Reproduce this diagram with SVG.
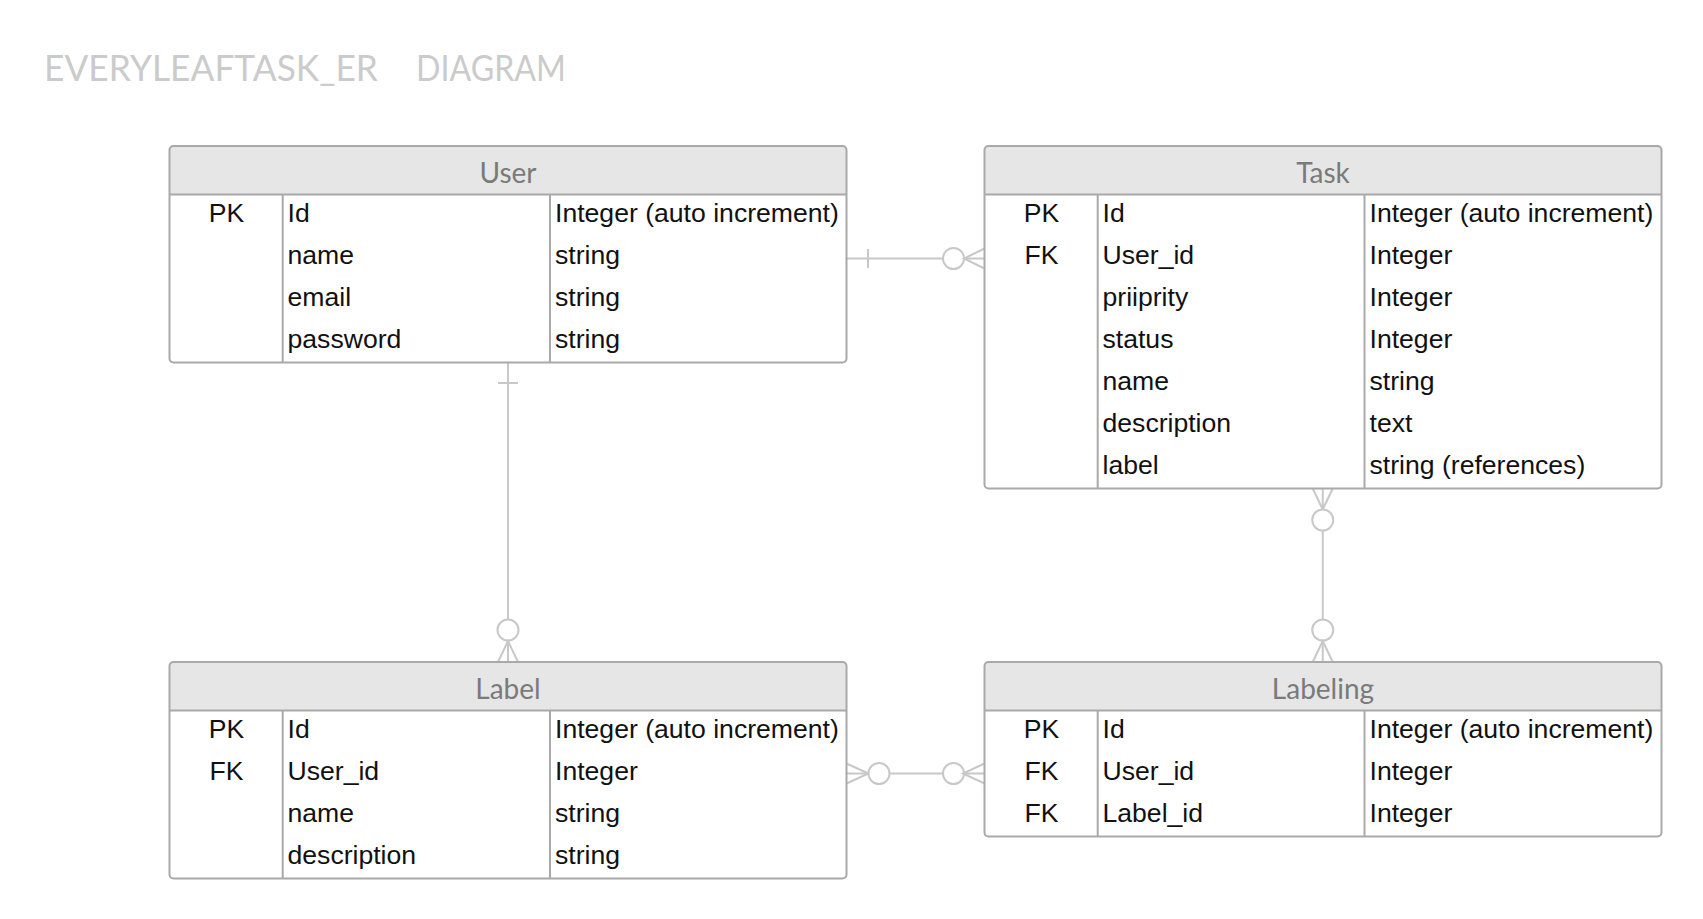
<svg xmlns="http://www.w3.org/2000/svg" width="1703" height="919" viewBox="0 0 1703 919">
<style>
.bg{fill:#ffffff}
.box{fill:#ffffff;stroke:none}
.hdr{fill:#e6e6e6;stroke:none}
.frame{fill:none;stroke:#a9a9a9;stroke-width:2}
.ln{stroke:#a9a9a9;stroke-width:2}
.title{font-family:Lato,"Open Sans",sans-serif;font-size:36px;fill:#cbcbcb}
.h{font-family:Lato,"Open Sans",sans-serif;font-size:28px;fill:#7a7a7a;text-anchor:middle}
.t{font-family:"Liberation Sans",Arial,sans-serif;font-size:26.6px;fill:#111111}
.k{text-anchor:middle}
.c{stroke:#c8c8c8;stroke-width:2;fill:none}
.o{stroke:#c8c8c8;stroke-width:2;fill:#ffffff}
</style>
<defs>
<path id="hdr677" d="M0,48.5 V4 Q0,0 4,0 H673 Q677,0 677,4 V48.5 Z"/>
</defs>
<rect class="bg" x="0" y="0" width="1703" height="919"/>
<g id="title">
<text class="title" x="44" y="81" textLength="334" lengthAdjust="spacingAndGlyphs">EVERYLEAFTASK_ER</text>
<text class="title" x="416" y="81" textLength="150" lengthAdjust="spacingAndGlyphs">DIAGRAM</text>
</g>
<g id="connectors">
<line class="c" x1="846.5" y1="258.5" x2="984.5" y2="258.5"/>
<line class="c" x1="868" y1="249" x2="868" y2="268"/>
<circle class="o" cx="953.5" cy="258.5" r="10.5"/>
<path class="c" d="M984.5,248.5 L964,258.5 L984.5,268.5"/>
<line class="c" x1="508" y1="362.5" x2="508" y2="662"/>
<line class="c" x1="498" y1="383" x2="518" y2="383"/>
<circle class="o" cx="508" cy="630" r="10.5"/>
<path class="c" d="M498,662 L508,641 L518,662"/>
<line class="c" x1="1322.75" y1="488.5" x2="1322.75" y2="662"/>
<path class="c" d="M1312.75,488.5 L1322.75,509.5 L1332.75,488.5"/>
<circle class="o" cx="1322.75" cy="520" r="10.5"/>
<circle class="o" cx="1322.75" cy="630" r="10.5"/>
<path class="c" d="M1312.75,662 L1322.75,641 L1332.75,662"/>
<line class="c" x1="846.5" y1="773.5" x2="984.5" y2="773.5"/>
<path class="c" d="M846.5,763.5 L868.5,773.5 L846.5,783.5"/>
<circle class="o" cx="879" cy="773.5" r="10.5"/>
<circle class="o" cx="953.5" cy="773.5" r="10.5"/>
<path class="c" d="M984.5,763.5 L963,773.5 L984.5,783.5"/>
</g>
<g id="user" transform="translate(169.5,146)">
<rect class="box" x="0" y="0" width="677" height="216.5" rx="4"/>
<use href="#hdr677" class="hdr"/>
<line class="ln" x1="0" y1="48.5" x2="677" y2="48.5"/>
<line class="ln" x1="113.2" y1="48.5" x2="113.2" y2="216.5"/>
<line class="ln" x1="380.5" y1="48.5" x2="380.5" y2="216.5"/>
<rect class="frame" x="0" y="0" width="677" height="216.5" rx="4"/>
<text class="h" x="338.5" y="36.7">User</text>
<text class="t k" x="57" y="75.5">PK</text>
<text class="t" x="118" y="75.5">Id</text>
<text class="t" x="385.5" y="75.5">Integer (auto increment)</text>
<text class="t" x="118" y="117.5">name</text>
<text class="t" x="385.5" y="117.5">string</text>
<text class="t" x="118" y="159.5">email</text>
<text class="t" x="385.5" y="159.5">string</text>
<text class="t" x="118" y="201.5">password</text>
<text class="t" x="385.5" y="201.5">string</text>
</g>
<g id="task" transform="translate(984.5,146)">
<rect class="box" x="0" y="0" width="677" height="342.5" rx="4"/>
<use href="#hdr677" class="hdr"/>
<line class="ln" x1="0" y1="48.5" x2="677" y2="48.5"/>
<line class="ln" x1="113.2" y1="48.5" x2="113.2" y2="342.5"/>
<line class="ln" x1="380" y1="48.5" x2="380" y2="342.5"/>
<rect class="frame" x="0" y="0" width="677" height="342.5" rx="4"/>
<text class="h" x="338.5" y="36.7">Task</text>
<text class="t k" x="57" y="75.5">PK</text>
<text class="t" x="118" y="75.5">Id</text>
<text class="t" x="385" y="75.5">Integer (auto increment)</text>
<text class="t k" x="57" y="117.5">FK</text>
<text class="t" x="118" y="117.5">User_id</text>
<text class="t" x="385" y="117.5">Integer</text>
<text class="t" x="118" y="159.5">priiprity</text>
<text class="t" x="385" y="159.5">Integer</text>
<text class="t" x="118" y="201.5">status</text>
<text class="t" x="385" y="201.5">Integer</text>
<text class="t" x="118" y="243.5">name</text>
<text class="t" x="385" y="243.5">string</text>
<text class="t" x="118" y="285.5">description</text>
<text class="t" x="385" y="285.5">text</text>
<text class="t" x="118" y="327.5">label</text>
<text class="t" x="385" y="327.5">string (references)</text>
</g>
<g id="label" transform="translate(169.5,662)">
<rect class="box" x="0" y="0" width="677" height="216.5" rx="4"/>
<use href="#hdr677" class="hdr"/>
<line class="ln" x1="0" y1="48.5" x2="677" y2="48.5"/>
<line class="ln" x1="113.2" y1="48.5" x2="113.2" y2="216.5"/>
<line class="ln" x1="380.5" y1="48.5" x2="380.5" y2="216.5"/>
<rect class="frame" x="0" y="0" width="677" height="216.5" rx="4"/>
<text class="h" x="338.5" y="36.7">Label</text>
<text class="t k" x="57" y="75.5">PK</text>
<text class="t" x="118" y="75.5">Id</text>
<text class="t" x="385.5" y="75.5">Integer (auto increment)</text>
<text class="t k" x="57" y="117.5">FK</text>
<text class="t" x="118" y="117.5">User_id</text>
<text class="t" x="385.5" y="117.5">Integer</text>
<text class="t" x="118" y="159.5">name</text>
<text class="t" x="385.5" y="159.5">string</text>
<text class="t" x="118" y="201.5">description</text>
<text class="t" x="385.5" y="201.5">string</text>
</g>
<g id="labeling" transform="translate(984.5,662)">
<rect class="box" x="0" y="0" width="677" height="174.5" rx="4"/>
<use href="#hdr677" class="hdr"/>
<line class="ln" x1="0" y1="48.5" x2="677" y2="48.5"/>
<line class="ln" x1="113.2" y1="48.5" x2="113.2" y2="174.5"/>
<line class="ln" x1="380" y1="48.5" x2="380" y2="174.5"/>
<rect class="frame" x="0" y="0" width="677" height="174.5" rx="4"/>
<text class="h" x="338.5" y="36.7">Labeling</text>
<text class="t k" x="57" y="75.5">PK</text>
<text class="t" x="118" y="75.5">Id</text>
<text class="t" x="385" y="75.5">Integer (auto increment)</text>
<text class="t k" x="57" y="117.5">FK</text>
<text class="t" x="118" y="117.5">User_id</text>
<text class="t" x="385" y="117.5">Integer</text>
<text class="t k" x="57" y="159.5">FK</text>
<text class="t" x="118" y="159.5">Label_id</text>
<text class="t" x="385" y="159.5">Integer</text>
</g>
</svg>
